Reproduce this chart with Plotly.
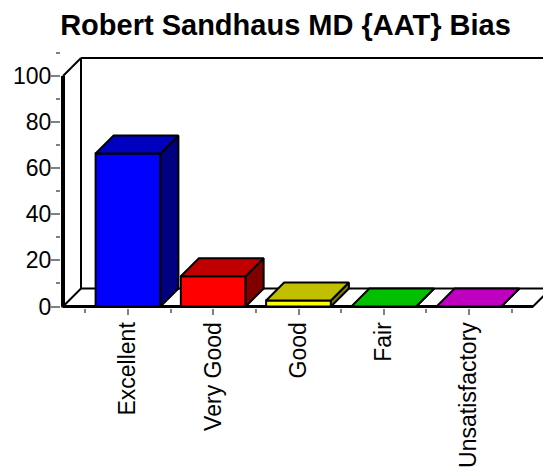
import plotly.graph_objects as go

# ---- data ----
categories = ["Excellent", "Very Good", "Good", "Fair", "Unsatisfactory"]
values = [66.4, 13.1, 2.6, 0, 0]
front_colors = ["#0000FF", "#FF0000", "#FFFF00", "#00FF00", "#FF00FF"]
top_colors = ["#0000C0", "#C00000", "#C0C000", "#00C000", "#C000C0"]
side_colors = ["#000080", "#800000", "#808000", "#008000", "#800080"]
y_ticks = [0, 20, 40, 60, 80, 100]
title = "Robert Sandhaus MD {AAT} Bias"

# ---- geometry (pixel calibration) ----
W, H = 543, 474
PX_X = 85.25          # px per category
C0 = 128.0            # px of first category center
PX_Y = 2.305          # px per value unit
Y0 = 306.5            # px of value 0
L, R, T, B = 61.0, 543.0, 50.0, 308.0

xr = [(L - C0) / PX_X, (R - C0) / PX_X]
yr = [-(B - Y0) / PX_Y, (Y0 - T) / PX_Y]

DX = 18.0 / PX_X
DY = 18.0 / PX_Y
BW = 0.76
x_ax = (63.0 - C0) / PX_X
x_fr = (533.0 - C0) / PX_X
ymax_axis = 100

idx = list(range(len(categories)))

fig = go.Figure()

# front faces
fig.add_trace(go.Bar(
    x=idx, y=values, width=BW,
    marker=dict(color=front_colors, line=dict(color="black", width=2)),
    hoverinfo="skip", showlegend=False,
))

# top and side faces
for i, v in enumerate(values):
    x0, x1 = i - BW / 2, i + BW / 2
    fig.add_trace(go.Scatter(
        x=[x1, x1 + DX, x1 + DX, x1, x1],
        y=[0, DY, v + DY, v, 0],
        fill="toself", fillcolor=side_colors[i], mode="lines",
        line=dict(color="black", width=2), hoverinfo="skip", showlegend=False,
    ))
    fig.add_trace(go.Scatter(
        x=[x0, x1, x1 + DX, x0 + DX, x0],
        y=[v, v, v + DY, v + DY, v],
        fill="toself", fillcolor=top_colors[i], mode="lines",
        line=dict(color="black", width=2), hoverinfo="skip", showlegend=False,
    ))

shapes = [
    # floor
    dict(type="path", xref="x", yref="y", layer="below",
         path=f"M {x_ax},0 L {x_fr},0 L {x_fr + DX},{DY} L {x_ax + DX},{DY} Z",
         fillcolor="white", line=dict(color="black", width=2)),
    dict(type="line", xref="x", yref="y", layer="below",
         x0=x_ax, x1=x_fr, y0=0, y1=0, line=dict(color="black", width=3)),
    # back wall
    dict(type="line", xref="x", yref="y", layer="below",
         x0=x_ax + DX, x1=x_ax + DX, y0=DY, y1=ymax_axis + DY,
         line=dict(color="black", width=2)),
    dict(type="line", xref="x", yref="y", layer="below",
         x0=x_ax + DX, x1=x_fr + 2 * DX, y0=ymax_axis + DY, y1=ymax_axis + DY,
         line=dict(color="black", width=2)),
    dict(type="line", xref="x", yref="y", layer="below",
         x0=x_ax, x1=x_ax + DX, y0=ymax_axis, y1=ymax_axis + DY,
         line=dict(color="black", width=2)),
    # y axis line
    dict(type="line", xref="x", yref="y", layer="above",
         x0=x_ax, x1=x_ax, y0=0, y1=ymax_axis,
         line=dict(color="black", width=4)),
]

font = "Liberation Sans, Arial, sans-serif"
fig.update_layout(
    width=W, height=H,
    margin=dict(l=L, r=W - R, t=T, b=H - B, pad=0),
    paper_bgcolor="white", plot_bgcolor="white",
    shapes=shapes,
    title=dict(text=f"<b>{title}</b>", x=285.5 / W, xanchor="center",
               y=1 - 24.5 / H, yanchor="middle", yref="container",
               font=dict(family=font, size=29, color="black")),
    font=dict(family=font, color="black"),
    xaxis=dict(range=xr, showgrid=False, zeroline=False, showline=False,
               tickvals=idx, ticktext=categories, tickangle=-90,
               ticks="outside", ticklen=6, tickwidth=2, tickcolor="#808080",
               ticklabelstandoff=-2,
               tickfont=dict(size=23, family=font, color="black"),
               minor=dict(tickvals=[i - 0.5 for i in idx] + [len(idx) - 0.5],
                          ticks="outside", ticklen=4, tickwidth=2,
                          tickcolor="#808080", showgrid=False)),
    yaxis=dict(range=yr, showgrid=False, zeroline=False, showline=False,
               tickvals=y_ticks, ticks="outside", ticklen=9, tickwidth=2,
               tickcolor="#808080", ticklabelstandoff=-5,
               tickfont=dict(size=23, family=font, color="black"),
               minor=dict(dtick=10, ticks="outside", ticklen=4, tickwidth=2,
                          tickcolor="#808080", showgrid=False)),
)

fig.write_html("out.html", config={"displayModeBar": False},
               post_script="document.body.style.margin='0';")
